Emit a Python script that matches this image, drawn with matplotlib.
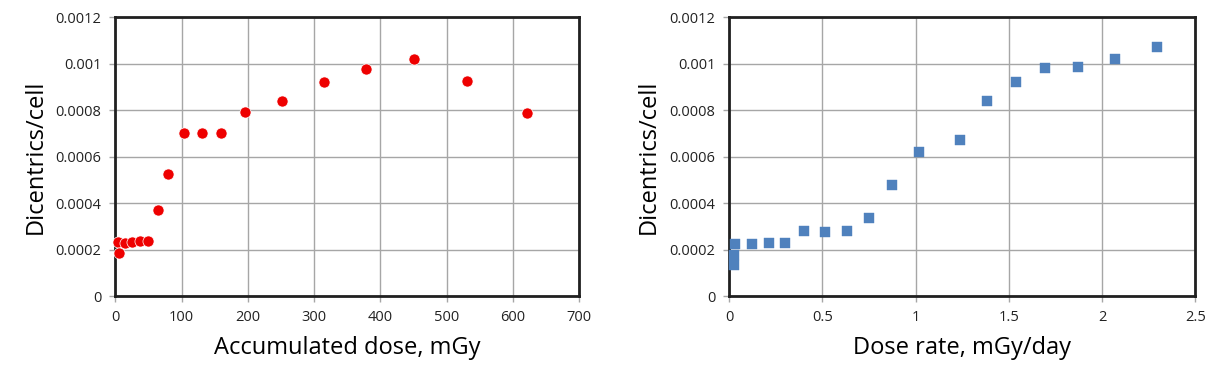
import numpy as np
import matplotlib.pyplot as plt

plt.rcParams['font.family'] = ['Open Sans', 'DejaVu Sans']

##
#    Data
##
dose = [4, 5.5, 15, 25, 37, 50, 64, 79, 103, 130, 159, 195, 252, 315, 378, 450, 531, 621]
dic_dose = [0.000232, 0.000186, 0.00023, 0.000232, 0.000235, 0.000237, 0.000372, 0.000525,
            0.0007, 0.0007, 0.0007, 0.000794, 0.00084, 0.00092, 0.000977, 0.00102, 0.000926, 0.000788]

rate = [0.025, 0.026, 0.03, 0.12, 0.211, 0.298, 0.402, 0.511, 0.631, 0.752, 0.872, 1.02,
        1.236, 1.383, 1.538, 1.693, 1.869, 2.069, 2.297]
dic_rate = [0.000135, 0.000178, 0.000225, 0.000225, 0.000228, 0.000228, 0.000278, 0.000276,
            0.000281, 0.000334, 0.000476, 0.000622, 0.000673, 0.00084, 0.00092, 0.00098,
            0.000988, 0.00102, 0.00107]

yticks = [0, 0.0002, 0.0004, 0.0006, 0.0008, 0.001, 0.0012]
ylabels = ['0', '0.0002', '0.0004', '0.0006', '0.0008', '0.001', '0.0012']

fig = plt.figure(figsize=(12.22, 3.84), dpi=100)
ax1 = fig.add_axes([0.0944, 0.229, 0.3797, 0.726])
ax2 = fig.add_axes([0.5968, 0.229, 0.3813, 0.726])


def style(ax, xticks, xlabels, xlim):
    ax.set_xlim(xlim)
    ax.set_ylim(0, 0.0012)
    ax.set_xticks(xticks)
    ax.set_xticklabels(xlabels)
    ax.set_yticks(yticks)
    ax.set_yticklabels(ylabels)
    ax.grid(True, color='#a6a6a6', linewidth=1)
    ax.set_axisbelow(True)
    for s in ax.spines.values():
        s.set_linewidth(2)
        s.set_color('#202020')
    ax.tick_params(direction='out', length=4, width=1, color='#a6a6a6',
                   labelsize=10.5, labelcolor='#222222', pad=6)
    ax.set_ylabel('Dicentrics/cell', fontsize=17, labelpad=6)


##
#    Left: accumulated dose
##
ax1.plot(dose, dic_dose, 'o', color='#ee0000', markersize=8,
         markeredgecolor='white', markeredgewidth=0.5, clip_on=False, zorder=3)
style(ax1, np.arange(0, 701, 100), [str(v) for v in range(0, 701, 100)], (0, 700))
ax1.set_xlabel('Accumulated dose, mGy', fontsize=17, labelpad=8)

##
#    Right: dose rate
##
ax2.plot(rate, dic_rate, 's', color='#4f81bd', markersize=7,
         markeredgecolor='#4f81bd', markeredgewidth=0.3, clip_on=False, zorder=3)
style(ax2, [0, 0.5, 1, 1.5, 2, 2.5], ['0', '0.5', '1', '1.5', '2', '2.5'], (0, 2.5))
ax2.set_xlabel('Dose rate, mGy/day', fontsize=17, labelpad=8)

fig.savefig('out.png', dpi=100)
